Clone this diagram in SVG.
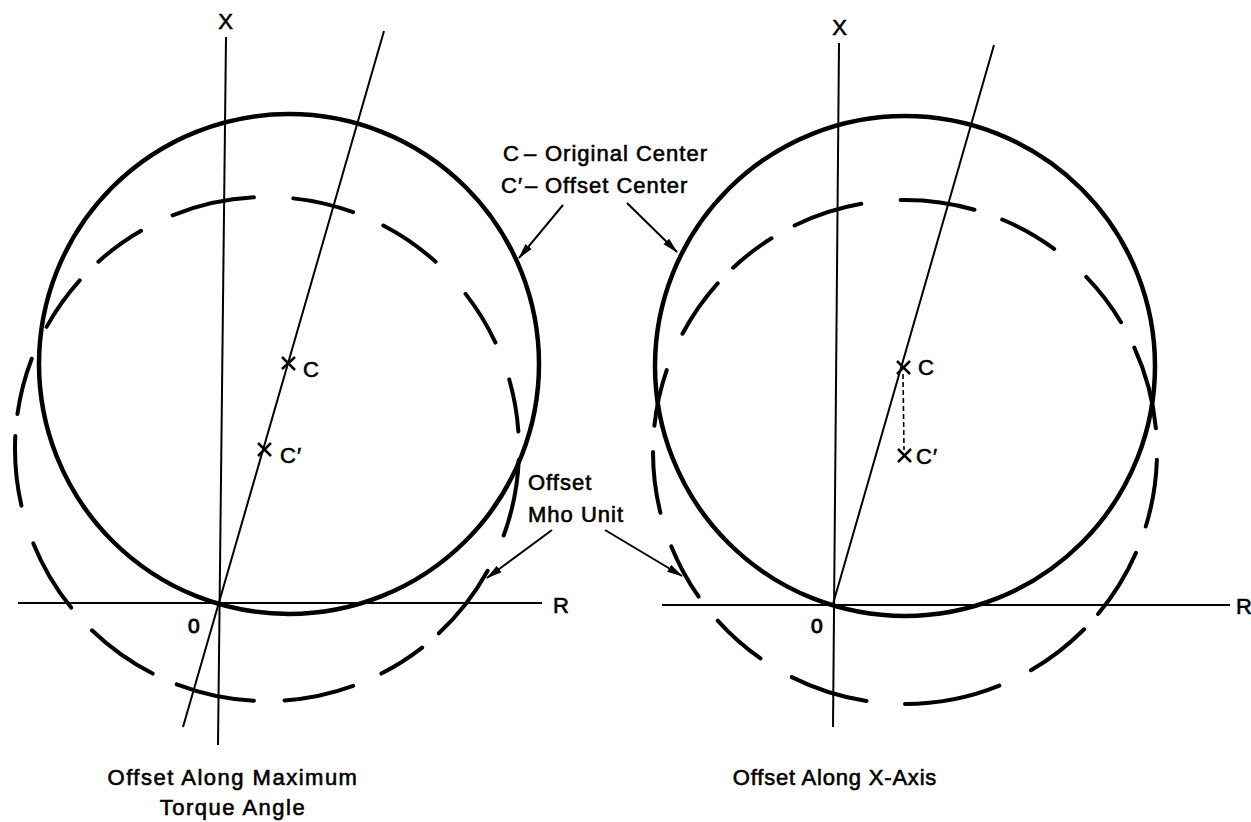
<svg xmlns="http://www.w3.org/2000/svg" width="1251" height="822" viewBox="0 0 1251 822">
<style>
.ax{stroke:#000;stroke-width:2;fill:none}
.sol{stroke:#000;stroke-width:4.5;fill:none}
.dsh{stroke:#000;stroke-width:4;fill:none;stroke-linecap:round}
.mk{stroke:#000;stroke-width:2.5;fill:none}
.t{font-family:"Liberation Sans",Arial,sans-serif;font-size:22px;fill:#000;stroke:#000;stroke-width:0.6;letter-spacing:1px}
.cap{letter-spacing:1.5px}
.arr{stroke:#000;stroke-width:2;fill:none;marker-end:url(#ah)}
</style>
<defs>
<marker id="ah" markerUnits="userSpaceOnUse" markerWidth="16" markerHeight="10" refX="15" refY="5" orient="auto">
<path d="M0,1 L16,5 L0,9 z" fill="#000"/>
</marker>
</defs>
<rect width="1251" height="822" fill="#fff"/>

<g id="left-diagram">
<g id="left-axes">
<line class="ax" x1="226" y1="37" x2="218" y2="745"/>
<line class="ax" x1="18" y1="603" x2="542" y2="603"/>
<line class="ax" x1="384" y1="31" x2="183" y2="727"/>
<text class="t" x="226" y="29" text-anchor="middle">X</text>
<text class="t" x="553" y="613">R</text>
<text class="t" x="188" y="633" style="font-size:21px;stroke-width:0.9">0</text>
</g>
<g id="left-original-circle">
<circle class="sol" cx="289" cy="364" r="250"/>
</g>
<g id="left-offset-circle">
<circle class="dsh" cx="267" cy="449" r="252" pathLength="360" stroke-dasharray="17.6 8.8 18.1 5 11 7 16 7 18 6 17 7 17 9 16 5 13 8 13 6 12 8 19 9 14 7.5 14.5 10 13 9 12 6.5" stroke-dashoffset="-2.5"/>
</g>
<g id="left-C">
<line class="mk" x1="282" y1="357" x2="295" y2="370"/>
<line class="mk" x1="282" y1="369" x2="295" y2="357"/>
<text class="t" x="303" y="377">C</text>
</g>
<g id="left-Cprime">
<line class="mk" x1="258" y1="443" x2="271" y2="456"/>
<line class="mk" x1="258" y1="456" x2="271" y2="443"/>
<text class="t" x="280" y="463">C′</text>
</g>
<g id="left-caption">
<text class="t cap" x="233" y="785" text-anchor="middle">Offset Along Maximum</text>
<text class="t cap" x="233" y="815" text-anchor="middle">Torque Angle</text>
</g>
</g>

<g id="right-diagram">
<g id="right-axes">
<line class="ax" x1="839" y1="43" x2="833" y2="727"/>
<line class="ax" x1="662" y1="605" x2="1230" y2="605"/>
<line class="ax" x1="994" y1="45" x2="833" y2="604"/>
<text class="t" x="840" y="35" text-anchor="middle">X</text>
<text class="t" x="1236" y="614">R</text>
<text class="t" x="811" y="633" style="font-size:21px;stroke-width:0.9">0</text>
</g>
<g id="right-original-circle">
<circle class="sol" cx="905" cy="366" r="250"/>
</g>
<g id="right-offset-circle">
<circle class="dsh" cx="905" cy="452" r="252" pathLength="360" stroke-dasharray="15.4 6.4 16.4 4.7 15.3 8 22 8.8 17.9 8.3 13 7 13 8 14 6 13 9 14 5 11 6 16 9 17 6.7 13.6 9.7 13 6.5 19.1 7.2" stroke-dashoffset="-1.8"/>
</g>
<g id="right-C">
<line class="mk" x1="897" y1="361" x2="910" y2="374"/>
<line class="mk" x1="897" y1="374" x2="910" y2="361"/>
<text class="t" x="918" y="375">C</text>
</g>
<line x1="903" y1="374" x2="904" y2="450" stroke="#000" stroke-width="1.6" stroke-dasharray="5 3"/>
<g id="right-Cprime">
<line class="mk" x1="898" y1="449" x2="911" y2="462"/>
<line class="mk" x1="898" y1="462" x2="911" y2="449"/>
<text class="t" x="916" y="464">C′</text>
</g>
<g id="right-caption">
<text class="t" x="835" y="785" text-anchor="middle" style="letter-spacing:0.8px">Offset Along X-Axis</text>
</g>
</g>

<g id="legend">
<text class="t" y="161"><tspan x="503">C</tspan><tspan x="524">–</tspan><tspan x="545">Original Center</tspan></text>
<text class="t" y="193"><tspan x="501">C′</tspan><tspan x="525">–</tspan><tspan x="545">Offset Center</tspan></text>
</g>
<g id="mho-label">
<text class="t" x="528" y="490">Offset</text>
<text class="t" x="528" y="522">Mho Unit</text>
</g>

<g id="connectors">
<line class="arr" x1="563" y1="205" x2="519" y2="258"/>
<line class="arr" x1="627" y1="203" x2="677" y2="252"/>
<line class="arr" x1="552" y1="530" x2="487" y2="578"/>
<line class="arr" x1="605" y1="530" x2="682" y2="576"/>
</g>
</svg>
